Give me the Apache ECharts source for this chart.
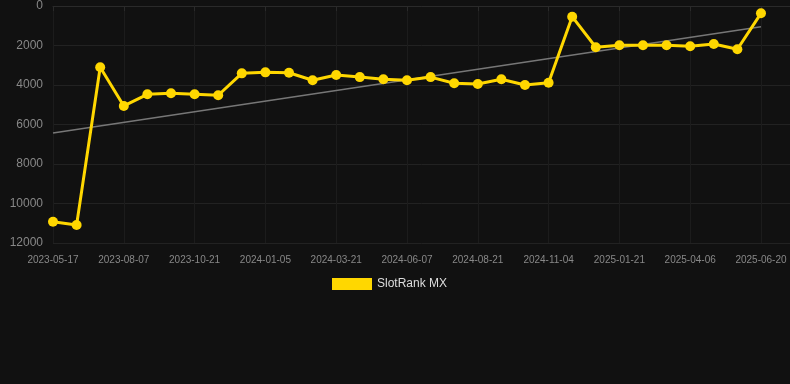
<!DOCTYPE html>
<html>
<head>
<meta charset="utf-8">
<script src="https://cdn.jsdelivr.net/npm/echarts@6/dist/echarts.min.js"></script>
<style>
  html, body { margin: 0; padding: 0; background: #111111; }
  #chart { width: 790px; height: 384px; }
</style>
</head>
<body>
<div id="chart"></div>
<script>
var dates = [
    '2023-05-17', '2023-06-12', '2023-07-10', '2023-08-07', '2023-09-01', '2023-09-26',
    '2023-10-21', '2023-11-15', '2023-12-10', '2024-01-05', '2024-01-30', '2024-02-24',
    '2024-03-21', '2024-04-15', '2024-05-12', '2024-06-07', '2024-07-02', '2024-07-27',
    '2024-08-21', '2024-09-15', '2024-10-10', '2024-11-04', '2024-12-01', '2024-12-27',
    '2025-01-21', '2025-02-15', '2025-03-12', '2025-04-06', '2025-04-30', '2025-05-26',
    '2025-06-20'
];
var ranks = [
    10920, 11090, 3100, 5060, 4470, 4420,
    4470, 4520, 3410, 3360, 3380, 3760,
    3490, 3600, 3710, 3760, 3600, 3910,
    3950, 3710, 4000, 3890, 540, 2090,
    1990, 1990, 1990, 2040, 1920, 2190,
    370
];
// trend line ends (first and last date)
var trendEnds = [6430, 1050];
var yTicks = { min: 0, max: 12000, step: 2000 };

// x is the date index, so the plot can run on past the last date like the original
var rankData = ranks.map(function (v, i) { return [i, v]; });
var trendData = [[0, trendEnds[0]], [dates.length - 1, trendEnds[1]]];

var chartDom = document.getElementById('chart');
var rankChart = echarts.init(chartDom);

var option = {
    backgroundColor: '#111111',
    animation: false,
    grid: {
        left: 53,
        right: 0,
        top: 6,
        bottom: 141,
    },
    legend: {
        top: 273,
        left: 327,
        itemWidth: 40,
        itemHeight: 12,
        data: [{ name: 'SlotRank MX', icon: 'rect' }],
        textStyle: { color: '#dddddd', fontSize: 12, fontFamily: 'Arial, Liberation Sans, sans-serif' },
    },
    xAxis: {
        type: 'value',
        min: 0,
        max: 31.23,
        interval: 3,
        axisLine: { lineStyle: { color: '#2a2a2a' } },
        axisTick: { show: true, lineStyle: { color: '#2a2a2a' } },
        axisLabel: {
            color: '#888888',
            fontSize: 10,
            margin: 12,
            showMaxLabel: false,
            fontFamily: 'Arial, Liberation Sans, sans-serif',
            formatter: function (v) { return dates[Math.round(v)] || ''; },
        },
        splitLine: {
            show: true,
            lineStyle: { color: '#1c1c1c' },
        },
    },
    yAxis: {
        type: 'value',
        inverse: true,
        min: yTicks.min,
        max: yTicks.max,
        interval: yTicks.step,
        axisLine: { show: false },
        axisTick: { show: false },
        axisLabel: {
            color: '#888888',
            fontSize: 12,
            margin: 10,
            fontFamily: 'Arial, Liberation Sans, sans-serif',
            formatter: function (v) { return String(v); },
        },
        splitLine: {
            show: true,
            lineStyle: { color: '#222222' },
        },
    },
    series: [
        {
            name: 'SlotRank MX',
            type: 'line',
            data: rankData,
            symbol: 'circle',
            symbolSize: 10,
            itemStyle: { color: '#FFD700' },
            lineStyle: { color: '#FFD700', width: 3 },
            z: 3,
        },
        {
            name: 'trend',
            type: 'line',
            data: trendData,
            symbol: 'none',
            lineStyle: { color: '#777777', width: 1.5 },
            z: 2,
            silent: true,
        }
    ],
};

rankChart.setOption(option);
</script>
</body>
</html>
